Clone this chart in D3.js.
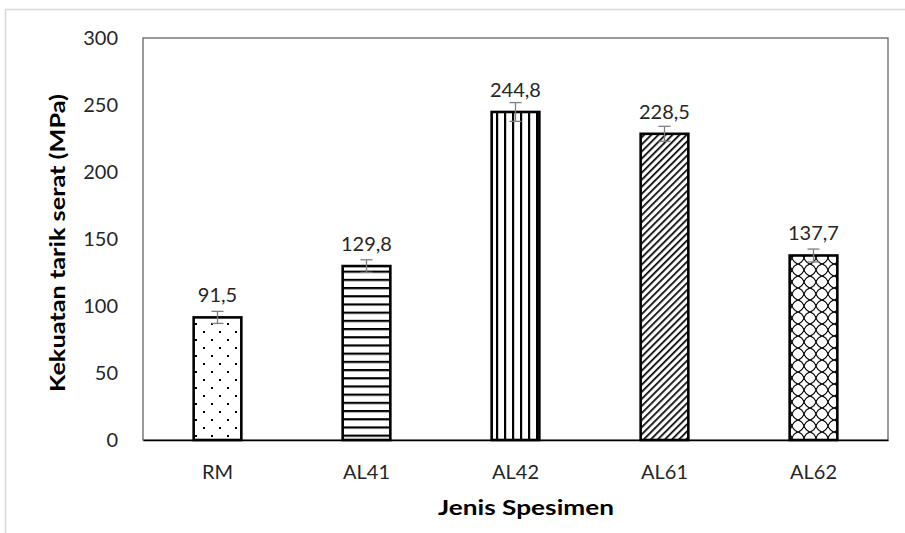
<!DOCTYPE html>
<html><head><meta charset="utf-8">
<script src="https://cdn.jsdelivr.net/npm/d3@7/dist/d3.min.js"></script>
<style>body{margin:0;background:#fff}svg{display:block}</style>
</head><body>
<svg id="c" width="905" height="533"></svg>
<script>
const categories = ["RM", "AL41", "AL42", "AL61", "AL62"];
const values = [91.5, 129.8, 244.8, 228.5, 137.7];
const errors = [4.5, 4.7, 7.0, 5.6, 4.8];
const valueLabels = ["91,5", "129,8", "244,8", "228,5", "137,7"];
const yTicks = [0, 50, 100, 150, 200, 250, 300];
const patterns = ["dots", "hlines", "vlines", "diag", "lattice"];

const svg = d3.select("#c");
const W = 905, H = 533;
const m = {left: 143, right: 888, top: 38, bottom: 440};
const font = "Lato, 'Open Sans', sans-serif";
const textCol = "#262626";

// outer frame
svg.append("rect").attr("x", 5.5).attr("y", 9.5).attr("width", W + 10).attr("height", H + 10)
  .attr("fill", "none").attr("stroke", "#d9d9d9").attr("stroke-width", 1.5);

const defs = svg.append("defs");
// dots
let p = defs.append("pattern").attr("id", "dots").attr("patternUnits", "userSpaceOnUse").attr("width", 16).attr("height", 16);
[[4,4],[12,12]].forEach(([x,y]) => p.append("rect").attr("x", x-1).attr("y", y-1).attr("width", 2).attr("height", 2).attr("fill", "#000"));
// hlines
p = defs.append("pattern").attr("id", "hlines").attr("patternUnits", "userSpaceOnUse").attr("width", 8).attr("height", 8.2);
p.append("rect").attr("x", 0).attr("y", 0).attr("width", 8).attr("height", 2.2).attr("fill", "#000");
// vlines
p = defs.append("pattern").attr("id", "vlines").attr("patternUnits", "userSpaceOnUse").attr("width", 8).attr("height", 8);
p.append("rect").attr("x", 0).attr("y", 0).attr("width", 2.2).attr("height", 8).attr("fill", "#000");
// diagonal
p = defs.append("pattern").attr("id", "diag").attr("patternUnits", "userSpaceOnUse").attr("width", 5).attr("height", 5)
  .attr("patternTransform", "rotate(45)");
p.append("rect").attr("x", 0).attr("y", 0).attr("width", 1.7).attr("height", 5).attr("fill", "#000");
// lattice
p = defs.append("pattern").attr("id", "lattice").attr("patternUnits", "userSpaceOnUse").attr("width", 12).attr("height", 12);
p.append("path").attr("d", "M6,0 Q10.5,1.5 12,6 Q10.5,10.5 6,12 Q1.5,10.5 0,6 Q1.5,1.5 6,0 Z")
  .attr("stroke", "#000").attr("stroke-width", 1.2).attr("fill", "none");

const x = d3.scaleBand().domain(categories).range([m.left, m.right]).paddingInner(0.68).paddingOuter(0.34);
const y = d3.scaleLinear().domain([0, 300]).range([m.bottom, m.top]);

// plot frame
svg.append("rect").attr("x", m.left).attr("y", m.top).attr("width", m.right - m.left).attr("height", m.bottom - m.top)
  .attr("fill", "none").attr("stroke", "#595959").attr("stroke-width", 1.2);

// y axis labels
const yAxis = svg.append("g").attr("transform", `translate(${m.left},0)`)
  .call(d3.axisLeft(y).tickValues(yTicks).tickSize(0).tickPadding(25));
yAxis.select(".domain").remove();
yAxis.selectAll("text").attr("font-family", font).attr("font-size", 20).attr("fill", textCol);

// x axis labels
const xAxis = svg.append("g").attr("transform", `translate(0,${m.bottom})`)
  .call(d3.axisBottom(x).tickSize(0).tickPadding(25));
xAxis.select(".domain").attr("stroke", "#000").attr("stroke-width", 1.3);
xAxis.selectAll("text").attr("font-family", font).attr("font-size", 20).attr("fill", textCol);

const data = categories.map((c, i) => ({c, v: values[i], e: errors[i], l: valueLabels[i], p: patterns[i]}));

svg.append("g").selectAll("rect").data(data).join("rect")
  .attr("x", d => x(d.c)).attr("y", d => y(d.v))
  .attr("width", x.bandwidth()).attr("height", d => y(0) - y(d.v))
  .attr("fill", d => `url(#${d.p})`).attr("stroke", "#000").attr("stroke-width", 2.6);

// error bars
const eb = svg.append("g").attr("stroke", "#7f7f7f").attr("stroke-width", 1.3);
data.forEach(d => {
  const cx = x(d.c) + x.bandwidth() / 2;
  eb.append("line").attr("x1", cx).attr("x2", cx).attr("y1", y(d.v + d.e)).attr("y2", y(d.v - d.e));
  eb.append("line").attr("x1", cx - 6).attr("x2", cx + 6).attr("y1", y(d.v + d.e)).attr("y2", y(d.v + d.e));
  eb.append("line").attr("x1", cx - 6).attr("x2", cx + 6).attr("y1", y(d.v - d.e)).attr("y2", y(d.v - d.e));
});

// value labels
svg.append("g").selectAll("text").data(data).join("text")
  .attr("x", d => x(d.c) + x.bandwidth() / 2).attr("y", d => y(d.v) - 15)
  .attr("text-anchor", "middle").attr("font-family", font).attr("font-size", 20).attr("fill", textCol)
  .text(d => d.l);

// axis titles
svg.append("text").attr("transform", `translate(65,${243}) rotate(-90)`)
  .attr("text-anchor", "middle").attr("font-family", font).attr("font-size", 20).attr("font-weight", "bold").attr("fill", "#000")
  .attr("textLength", 298).attr("lengthAdjust", "spacingAndGlyphs")
  .text("Kekuatan tarik serat (MPa)");
svg.append("text").attr("x", 526).attr("y", 515)
  .attr("text-anchor", "middle").attr("font-family", font).attr("font-size", 20).attr("font-weight", "bold").attr("fill", "#000")
  .attr("textLength", 176).attr("lengthAdjust", "spacingAndGlyphs")
  .text("Jenis Spesimen");
</script>
</body></html>
